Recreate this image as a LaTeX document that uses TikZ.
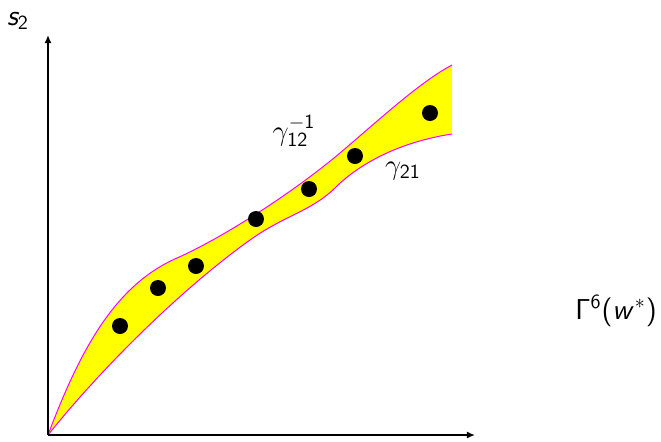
\documentclass[tikz,border=0pt]{standalone}
\usetikzlibrary{arrows.meta}
% sans-serif math letters and digits
\DeclareSymbolFont{sfslant}{OT1}{cmss}{m}{sl}
\DeclareSymbolFont{sfup}{OT1}{cmss}{m}{n}
\DeclareMathSymbol{s}{\mathalpha}{sfslant}{`s}
\DeclareMathSymbol{w}{\mathalpha}{sfslant}{`w}
\DeclareMathSymbol{1}{\mathalpha}{sfup}{`1}
\DeclareMathSymbol{2}{\mathalpha}{sfup}{`2}
\DeclareMathSymbol{6}{\mathalpha}{sfup}{`6}
\DeclareMathSymbol{(}{\mathopen}{sfup}{`(}
\DeclareMathSymbol{)}{\mathclose}{sfup}{`)}
\DeclareMathSymbol{\Gamma}{\mathalpha}{sfup}{"00}
\DeclareMathSizes{13.5}{13.5}{10}{7}
\definecolor{bandYellow}{RGB}{255,255,0}
\definecolor{bandEdge}{RGB}{255,0,255}
\begin{document}
\begin{tikzpicture}[
    x=0.5pt, y=-0.5pt,
    ax/.style={-{Latex[length=4pt,width=3.5pt]}, line width=0.8pt},
    edge/.style={bandEdge, line width=0.5pt},
    dot/.style={circle, fill=black, inner sep=0pt, minimum size=8pt},
    lbl/.style={font=\fontsize{13.5}{16}\selectfont, inner sep=0pt},
]
\useasboundingbox (0,0) rectangle (661,441);

% Axes end points and band corners
\coordinate (O) at (48,435);
\coordinate (ytip) at (48,35);
\coordinate (xtip) at (475,435);
\coordinate (hi) at (452,65);
\coordinate (lo) at (452,134);

% Band between the two curves
\fill[bandYellow] (O) .. controls (80,350) and (115,285) .. (177,258)
    .. controls (220,239) and (290,195) .. (340,153)
    .. controls (380,119) and (420,82) .. (hi) -- (lo)
    .. controls (400,142) and (360,163) .. (335,188)
    .. controls (310,212) and (285,215) .. (250,240)
    .. controls (180,290) and (100,370) .. (O) -- cycle;
\draw[edge] (O) .. controls (80,350) and (115,285) .. (177,258)
    .. controls (220,239) and (290,195) .. (340,153)
    .. controls (380,119) and (420,82) .. (hi);
\draw[edge] (lo) .. controls (400,142) and (360,163) .. (335,188)
    .. controls (310,212) and (285,215) .. (250,240)
    .. controls (180,290) and (100,370) .. (O);

\draw[ax] (O) -- (ytip);
\draw[ax] (O) -- (xtip);

% Sample points
\foreach \x/\y [count=\i] in {120/326, 158/288, 196/266, 256/219, 309/189, 355/156, 430/113}
  \node[dot] (p\i) at (\x,\y) {};

% Labels
\node[lbl] (s2) at (18,21) {$s_2$};
\node[lbl] (ginv) at (294,131) {$\gamma_{12}^{-1}$};
\node[lbl] (g21) at (403,171) {$\gamma_{21}$};
\node[lbl] (gam) at (616,311) {$\Gamma^6(w^*)$};
\end{tikzpicture}
\end{document}
